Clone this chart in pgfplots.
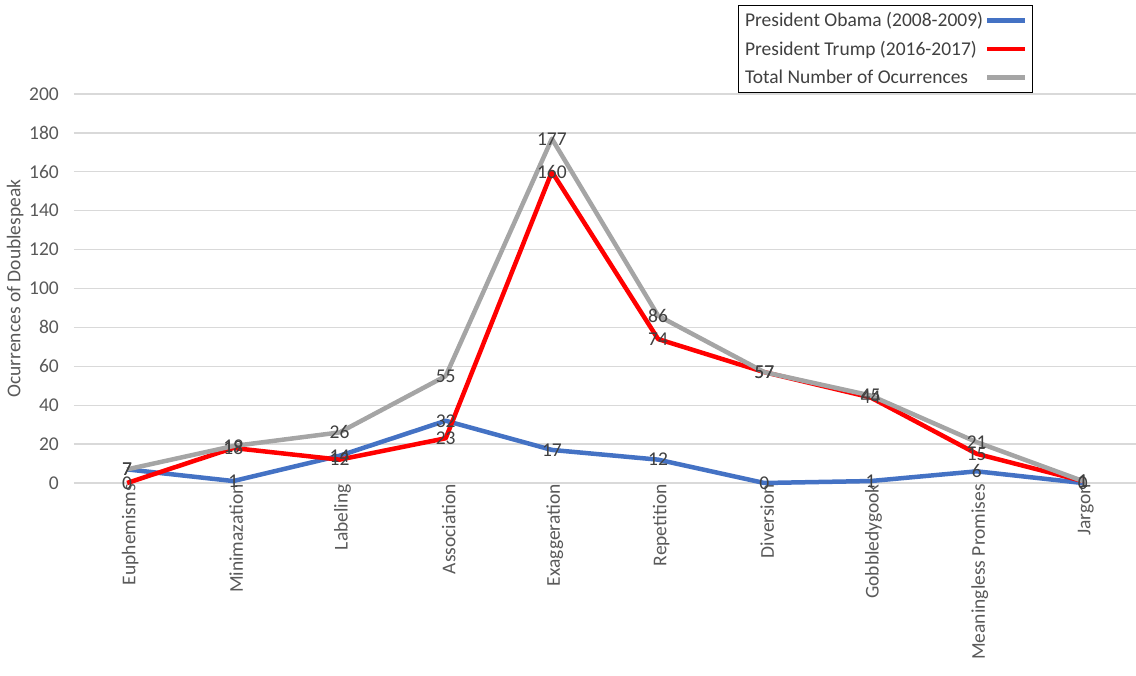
\documentclass[border=0pt]{standalone}
\usepackage{pgfplots}
\pgfplotsset{compat=1.18}
\usepackage{pgfplotstable}
\usepackage{fontspec}
\setmainfont{Carlito}

\definecolor{obama}{HTML}{4472C4}
\definecolor{trump}{HTML}{FF0000}
\definecolor{total}{HTML}{A5A5A5}
\definecolor{gridc}{HTML}{D9D9D9}
\definecolor{ticktxt}{HTML}{595959}
\definecolor{labtxt}{HTML}{404040}

% x = category index, y = occurrences
\pgfplotstableread{
x y
0 7
1 1
2 14
3 32
4 17
5 12
6 0
7 1
8 6
9 0
}\obama
\pgfplotstableread{
x y
0 0
1 18
2 12
3 23
4 160
5 74
6 57
7 44
8 15
9 1
}\trump
\pgfplotstableread{
x y
0 7
1 19
2 26
3 55
4 177
5 86
6 57
7 45
8 21
9 1
}\total

\newcommand\chartfont{\fontsize{19.5}{22}\selectfont}

\begin{document}
\begin{tikzpicture}
\useasboundingbox (-74pt,-193pt) rectangle (1062pt,483pt);
\begin{axis}[
  scale only axis,
  width=1062pt, height=389pt,
  xmin=-0.5, xmax=9.5,
  ymin=0, ymax=200,
  ytick={0,20,...,200},
  xtick={0,...,9},
  xticklabels={Euphemisms,Minimazation,Labeling,Association,Exaggeration,Repetition,Diversion,Gobbledygook,Meaningless Promises,Jargon},
  axis line style={draw=none},
  major tick length=0pt,
  ymajorgrids,
  grid style={gridc, line width=1.3pt},
  /pgf/number format/assume math mode=true,
  tick label style={font=\chartfont, text=ticktxt},
  xticklabel style={rotate=90, anchor=east, inner sep=1pt, yshift=-3pt},
  yticklabel style={inner sep=2pt, xshift=-13pt},
  ylabel={Ocurrences of Doublespeak},
  ylabel style={at={(axis description cs:-0.0555,0.5)}, anchor=center,
    font=\chartfont, text=ticktxt},
  legend plot pos=right,
  legend cell align=left,
  legend image code/.code={\draw[#1] (0pt,0pt) -- (38pt,0pt);},
  legend style={at={(axis description cs:1,1)}, anchor=north east,
    xshift=-103pt, yshift=89pt, draw=black, line width=0.8pt,
    font=\chartfont, text=labtxt,
    inner xsep=5pt, inner ysep=5pt, row sep=9pt,
    /tikz/every even column/.append style={column sep=16pt}},
  every node near coord/.append style={anchor=center, text=labtxt,
    font=\chartfont},
  clip=false,
]
\addplot[obama, line width=4.5pt, line join=round] table[x=x,y=y] {\obama};
\addlegendentry{President Obama (2008-2009)}
\addplot[trump, line width=4.5pt, line join=round] table[x=x,y=y] {\trump};
\addlegendentry{President Trump (2016-2017)}
\addplot[total, line width=4.5pt, line join=round] table[x=x,y=y] {\total};
\addlegendentry{Total Number of Ocurrences}
% value labels on top of all lines
\addplot[draw=none, nodes near coords, forget plot] table[x=x,y=y] {\obama};
\addplot[draw=none, nodes near coords, forget plot] table[x=x,y=y] {\trump};
\addplot[draw=none, nodes near coords, forget plot] table[x=x,y=y] {\total};
\end{axis}
\end{tikzpicture}
\end{document}
